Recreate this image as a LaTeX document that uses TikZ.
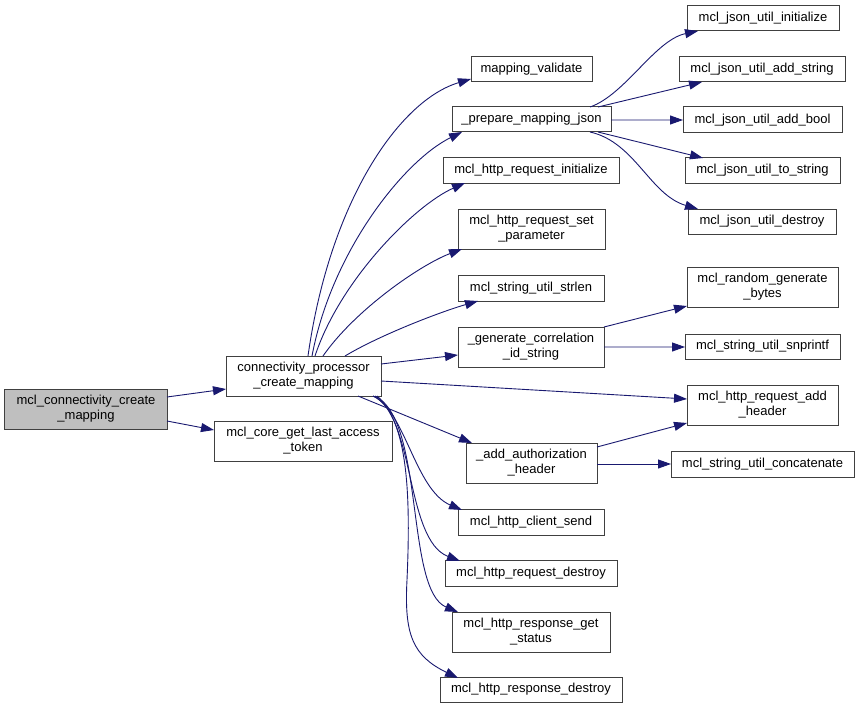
\documentclass[tikz,border=0pt]{standalone}
\usepackage{fontspec}
\setmainfont{Liberation Sans}
\usetikzlibrary{arrows.meta}
\definecolor{edgeblue}{HTML}{191970}
\definecolor{rootgray}{HTML}{BFBFBF}
\begin{document}
\begin{tikzpicture}[x=1bp,y=-1bp,
  box/.style={draw=black!75, line width=1bp, fill=white, inner sep=0pt, align=center, font=\fontsize{13bp}{15bp}\selectfont, text=black},
  call/.style={draw=edgeblue, line width=0.9bp, -{Triangle[length=13bp,width=9bp]}},
]
\useasboundingbox[fill=white] (0,0) rectangle (860,709);
% nodes
\node[box, fill=rootgray, minimum width=162bp, minimum height=40bp] (root) at (86,409) {mcl\_connectivity\_create\\\_mapping};
\node[box, minimum width=155bp, minimum height=40bp] (cp) at (303.5,376) {connectivity\_processor\\\_create\_mapping};
\node[box, minimum width=178bp, minimum height=40bp] (core) at (303,441) {mcl\_core\_get\_last\_access\\\_token};
\node[box, minimum width=121bp, minimum height=25bp] (mv) at (531.5,69.5) {mapping\_validate};
\node[box, minimum width=159bp, minimum height=25bp] (pmj) at (531.5,119.5) {\_prepare\_mapping\_json};
\node[box, minimum width=176bp, minimum height=25bp] (hri) at (531,170.5) {mcl\_http\_request\_initialize};
\node[box, minimum width=147bp, minimum height=40bp] (hrsp) at (531.5,229) {mcl\_http\_request\_set\\\_parameter};
\node[box, minimum width=146bp, minimum height=26bp] (strlen) at (531,288) {mcl\_string\_util\_strlen};
\node[box, minimum width=146bp, minimum height=40bp] (gen) at (531,347) {\_generate\_correlation\\\_id\_string};
\node[box, minimum width=131bp, minimum height=40bp] (auth) at (531.5,463) {\_add\_authorization\\\_header};
\node[box, minimum width=146bp, minimum height=26bp] (send) at (531,522) {mcl\_http\_client\_send};
\node[box, minimum width=172bp, minimum height=26bp] (rdes) at (531,573) {mcl\_http\_request\_destroy};
\node[box, minimum width=158bp, minimum height=40bp] (rgs) at (531,632) {mcl\_http\_response\_get\\\_status};
\node[box, minimum width=182bp, minimum height=25bp] (rsd) at (531,689.5) {mcl\_http\_response\_destroy};
\node[box, minimum width=152bp, minimum height=25bp] (ji) at (763,18.5) {mcl\_json\_util\_initialize};
\node[box, minimum width=166bp, minimum height=25bp] (jas) at (762,69.5) {mcl\_json\_util\_add\_string};
\node[box, minimum width=159bp, minimum height=26bp] (jab) at (762.5,120) {mcl\_json\_util\_add\_bool};
\node[box, minimum width=155bp, minimum height=25bp] (jts) at (762.5,170.5) {mcl\_json\_util\_to\_string};
\node[box, minimum width=148bp, minimum height=25bp] (jd) at (762,221.5) {mcl\_json\_util\_destroy};
\node[box, minimum width=151bp, minimum height=40bp] (rgb) at (762.5,287) {mcl\_random\_generate\\\_bytes};
\node[box, minimum width=155bp, minimum height=25bp] (snp) at (762.5,346.5) {mcl\_string\_util\_snprintf};
\node[box, minimum width=151bp, minimum height=40bp] (rah) at (762.5,405) {mcl\_http\_request\_add\\\_header};
\node[box, minimum width=183bp, minimum height=26bp] (cat) at (762.5,464) {mcl\_string\_util\_concatenate};
% edges
\draw[call] ([shift={(81,-12)}]root.center) -- ([shift={(-77.5,13)}]cp.center);
\draw[call] ([shift={(81,12)}]root.center) -- ([shift={(-89,-11)}]core.center);
\draw[call] ([shift={(4.5,-20)}]cp.center) .. controls +(22,-156) and +(-71,21) .. ([shift={(-60.5,9.5)}]mv.center);
\draw[call] ([shift={(8.5,-20)}]cp.center) .. controls +(20,-106) and +(-57,28) .. ([shift={(-69.5,12.5)}]pmj.center);
\draw[call] ([shift={(11.5,-20)}]cp.center) .. controls +(25,-76) and +(-50,22) .. ([shift={(-66,12.5)}]hri.center);
\draw[call] ([shift={(19.5,-20)}]cp.center) .. controls +(32,-46) and +(-42,16) .. ([shift={(-69.5,20)}]hrsp.center);
\draw[call] ([shift={(41.5,-20)}]cp.center) .. controls +(35,-21) and +(-38,11) .. ([shift={(-53,13)}]strlen.center);
\draw[call] ([shift={(77.5,-12)}]cp.center) -- ([shift={(-73,8)}]gen.center);
\draw[call] ([shift={(77.5,5)}]cp.center) -- ([shift={(-75.5,-6)}]rah.center);
\draw[call] ([shift={(54.5,20)}]cp.center) -- ([shift={(-59.5,-20)}]auth.center);
\draw[call] ([shift={(69.5,20)}]cp.center) .. controls +(32,14) and +(-47,-20) .. ([shift={(-69,-12)}]send.center);
\draw[call] ([shift={(69.5,20)}]cp.center) .. controls +(42,19) and +(-55,-21) .. ([shift={(-71,-12)}]rdes.center);
\draw[call] ([shift={(71.5,20)}]cp.center) .. controls +(50,24) and +(-53,-22) .. ([shift={(-73,-20)}]rgs.center);
\coordinate (rsdmid) at (407,580);
\draw[call] ([shift={(73.5,20)}]cp.center) .. controls +(30,26) and +(4,-90) .. (rsdmid) .. controls +(-3,55) and +(-45,-22) .. ([shift={(-73,-11.5)}]rsd.center);
\draw[call] ([shift={(58.5,-12.5)}]pmj.center) .. controls +(35,-12) and +(-43,9) .. ([shift={(-65,12.5)}]ji.center);
\draw[call] ([shift={(66.5,-12.5)}]pmj.center) -- ([shift={(-60,12.5)}]jas.center);
\draw[call] ([shift={(79.5,0.5)}]pmj.center) -- ([shift={(-79.5,0)}]jab.center);
\draw[call] ([shift={(66.5,12.5)}]pmj.center) -- ([shift={(-59.5,-12.5)}]jts.center);
\draw[call] ([shift={(58.5,12.5)}]pmj.center) .. controls +(45,10) and +(-48,-14) .. ([shift={(-64,-12.5)}]jd.center);
\draw[call] ([shift={(73,-20)}]gen.center) -- ([shift={(-75.5,19)}]rgb.center);
\draw[call] ([shift={(73,0)}]gen.center) -- ([shift={(-77.5,0.5)}]snp.center);
\draw[call] ([shift={(65.5,-16)}]auth.center) -- ([shift={(-75.5,18)}]rah.center);
\draw[call] ([shift={(65.5,1)}]auth.center) -- ([shift={(-91.5,0)}]cat.center);
\end{tikzpicture}
\end{document}
